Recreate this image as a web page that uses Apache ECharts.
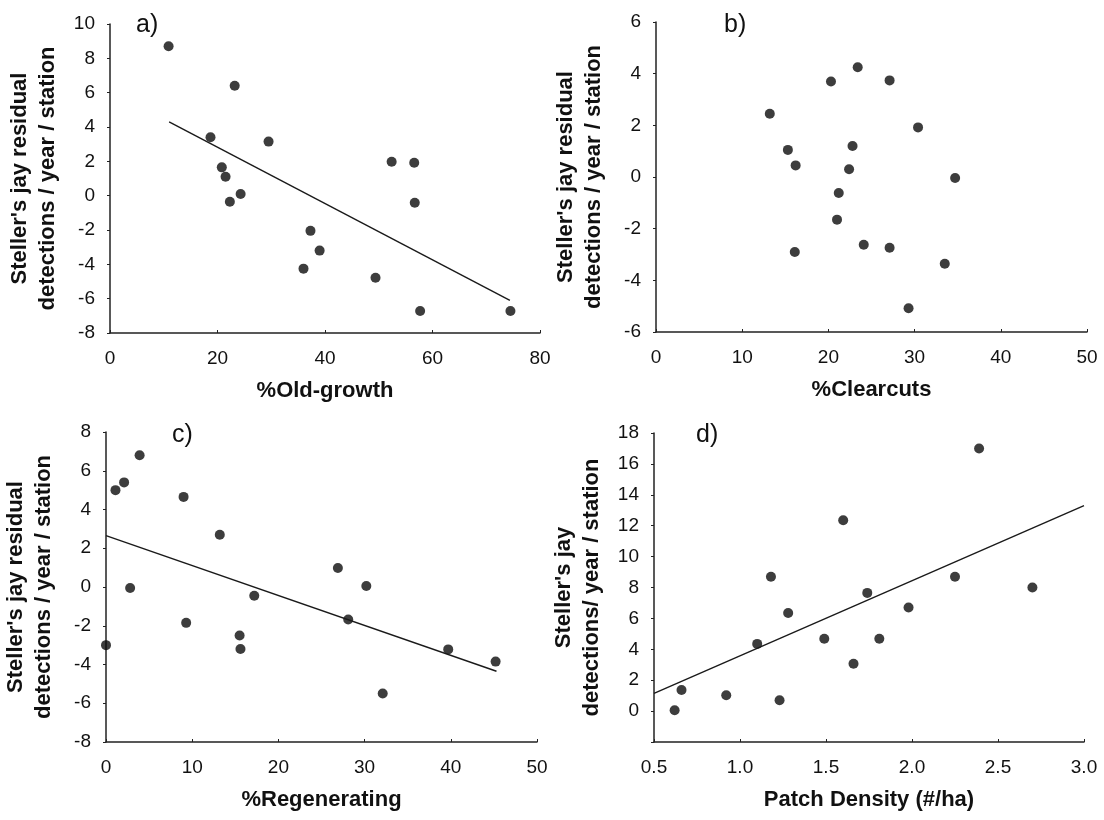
<!DOCTYPE html>
<html>
<head>
<meta charset="utf-8">
<script src="https://cdn.jsdelivr.net/npm/echarts@6/dist/echarts.min.js"></script>
<style>
  html, body { margin: 0; padding: 0; background: #fff; }
  #main { width: 1104px; height: 820px; }
</style>
</head>
<body>
<div id="main"></div>
<script>
// a) 老龄林比例
var oldGrowthX = [10.9, 23.2, 18.7, 29.5, 20.8, 21.5, 22.3, 24.3, 52.4, 56.6, 56.7, 37.3, 39.0, 36.0, 49.4, 57.7, 74.5];
var oldGrowthY = [8.7, 6.4, 3.4, 3.15, 1.65, 1.1, -0.35, 0.1, 1.98, 1.92, -0.41, -2.05, -3.2, -4.25, -4.78, -6.72, -6.72];
var oldGrowthFitX = [11, 74.4];
var oldGrowthFitY = [4.3, -6.1];

// b) 皆伐比例 (无趋势线)
var clearcutX = [13.2, 15.3, 16.2, 16.1, 20.3, 23.4, 27.1, 22.8, 22.4, 21.2, 21.0, 24.1, 27.1, 30.4, 34.7, 33.5, 29.3];
var clearcutY = [2.45, 1.05, 0.45, -2.9, 3.7, 4.25, 3.74, 1.2, 0.3, -0.62, -1.65, -2.62, -2.74, 1.92, -0.04, -3.36, -5.08];

// c) 更新林比例
var regenX = [0, 1.1, 2.1, 3.9, 2.8, 9.0, 9.3, 13.2, 15.5, 15.6, 17.2, 26.9, 30.2, 28.1, 39.7, 45.2, 32.1];
var regenY = [-3.0, 5.0, 5.4, 6.8, -0.05, 4.65, -1.85, 2.7, -2.5, -3.2, -0.45, 0.98, 0.05, -1.68, -3.22, -3.85, -5.5];
var regenFitX = [0, 45.3];
var regenFitY = [2.65, -4.35];

// d) 斑块密度
var patchX = [0.62, 0.66, 0.92, 1.1, 1.18, 1.23, 1.28, 1.49, 1.6, 1.66, 1.74, 1.81, 1.98, 2.25, 2.39, 2.70];
var patchY = [0.05, 1.37, 1.03, 4.35, 8.7, 0.7, 6.35, 4.68, 12.35, 3.06, 7.65, 4.68, 6.7, 8.7, 17.0, 8.0];
var patchFitX = [0.5, 3.0];
var patchFitY = [1.15, 13.3];

var font = "'Liberation Sans', Arial, sans-serif";
var ink = "#111";

// 把两个数组拼成散点
function pairs(xs, ys) {
  return xs.map(function (x, i) { return [x, ys[i]]; });
}

// 通用坐标轴样式, x轴固定在底部(不跟随0刻度)
function xAxisOf(grid, min, max, interval, name, fmt) {
  return {
    gridIndex: grid, type: "value", min: min, max: max, interval: interval,
    name: name, nameLocation: "middle", nameGap: 47,
    nameTextStyle: { fontFamily: font, fontSize: 22, fontWeight: "bold", color: ink },
    axisLine: { show: true, onZero: false, lineStyle: { color: "#222", width: 1.5 } },
    axisTick: { show: true, inside: true, length: 3, lineStyle: { color: "#222" } },
    axisLabel: { margin: 16, fontFamily: font, fontSize: 19, color: ink, formatter: fmt },
    splitLine: { show: false }
  };
}
function yAxisOf(grid, min, max, interval, name, fmt) {
  return {
    gridIndex: grid, type: "value", min: min, max: max, interval: interval,
    name: name, nameLocation: "middle", nameGap: 48, nameRotate: 90,
    nameTextStyle: { fontFamily: font, fontSize: 22, fontWeight: "bold", color: ink, lineHeight: 28 },
    axisLine: { show: true, onZero: false, lineStyle: { color: "#222", width: 1.5 } },
    axisTick: { show: true, length: 3, lineStyle: { color: "#222" } },
    axisLabel: { margin: 15, fontFamily: font, fontSize: 19, color: ink, formatter: fmt },
    splitLine: { show: false }
  };
}
function dots(i, xs, ys) {
  return {
    type: "scatter", xAxisIndex: i, yAxisIndex: i, data: pairs(xs, ys),
    symbolSize: 10, itemStyle: { color: "#0d0d0d" }, silent: true
  };
}
function fit(i, xs, ys) {
  return {
    type: "line", xAxisIndex: i, yAxisIndex: i, data: pairs(xs, ys),
    showSymbol: false, lineStyle: { color: "#1a1a1a", width: 1.4 }, silent: true
  };
}

var yTitle = "Steller's jay residual\ndetections / year / station";

var option = {
  animation: false,
  backgroundColor: "#fff",
  title: [
    { text: "a)", left: 131, top: 8 },
    { text: "b)", left: 719, top: 8 },
    { text: "c)", left: 167, top: 418 },
    { text: "d)", left: 691, top: 418 }
  ].map(function (t) {
    t.textStyle = { fontFamily: font, fontSize: 25, fontWeight: "normal", color: ink };
    return t;
  }),
  grid: [
    { left: 110, top: 24, width: 430, height: 309 },
    { left: 656, top: 22, width: 431, height: 310 },
    { left: 106, top: 432, width: 431, height: 310 },
    { left: 654, top: 433, width: 430, height: 309 }
  ],
  xAxis: [
    xAxisOf(0, 0, 80, 20, "%Old-growth"),
    xAxisOf(1, 0, 50, 10, "%Clearcuts"),
    xAxisOf(2, 0, 50, 10, "%Regenerating"),
    xAxisOf(3, 0.5, 3.0, 0.5, "Patch Density (#/ha)", function (v) { return v.toFixed(1); })
  ],
  yAxis: [
    yAxisOf(0, -8, 10, 2, yTitle),
    yAxisOf(1, -6, 6, 2, yTitle),
    yAxisOf(2, -8, 8, 2, yTitle),
    // 最下面的 -2 不显示刻度文字
    yAxisOf(3, -2, 18, 2, "Steller's jay\ndetections/ year / station", function (v) { return v < 0 ? "" : v; })
  ],
  series: [
    dots(0, oldGrowthX, oldGrowthY),
    fit(0, oldGrowthFitX, oldGrowthFitY),
    dots(1, clearcutX, clearcutY),
    dots(2, regenX, regenY),
    fit(2, regenFitX, regenFitY),
    dots(3, patchX, patchY),
    fit(3, patchFitX, patchFitY)
  ]
};

var myChart = echarts.init(document.getElementById("main"));
myChart.setOption(option);
</script>
</body>
</html>
